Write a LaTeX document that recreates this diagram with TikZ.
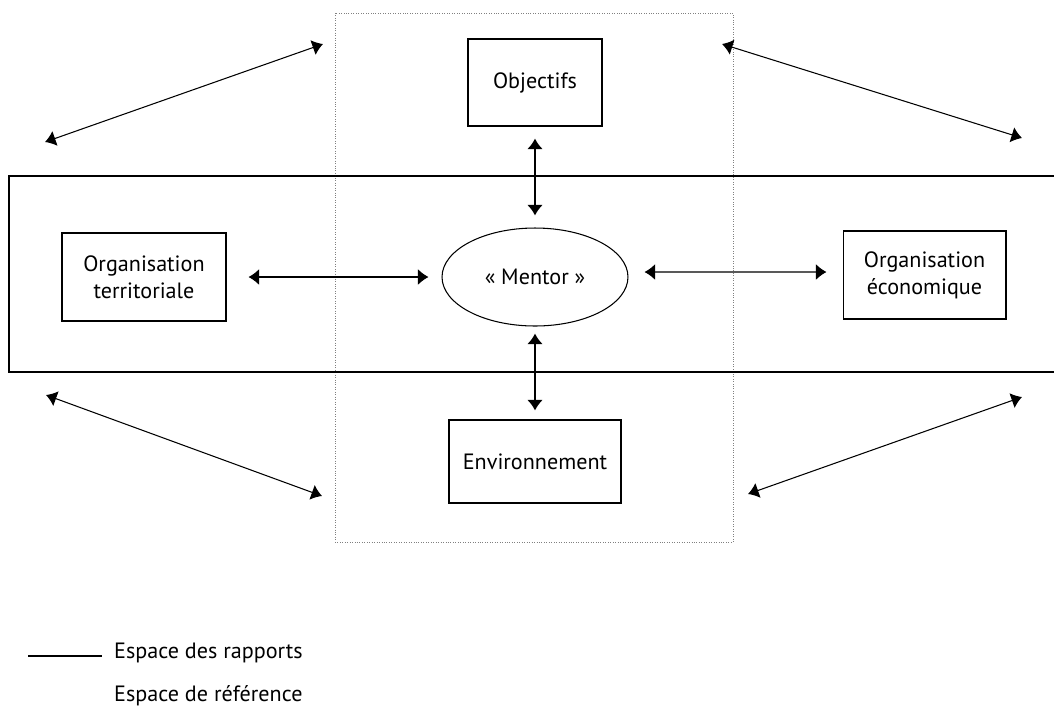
\documentclass[tikz,border=0pt]{standalone}
\usepackage{fontspec}
\setmainfont{PT Sans}
\usetikzlibrary{arrows.meta,shapes.geometric}
\tikzset{
  boite/.style={draw,semithick,align=center,font=\fontsize{12.6}{15.5}\selectfont},
  lien/.style={{Latex[length=6pt,width=9pt]}-{Latex[length=6pt,width=9pt]},semithick},
  lienfort/.style={lien,line width=1.1pt},
}
\begin{document}
\begin{tikzpicture}[x=0.02cm,y=-0.02cm]
\useasboundingbox (0,0) rectangle (1054,708);

% espace de reference
\draw[densely dotted,gray,thin] (335,13) rectangle (733,542);
% espace des rapports
\draw[line width=1.1pt] (9,176) rectangle (1070,372);

\node[boite,minimum width=2.68cm,minimum height=1.74cm] (obj) at (535,82.5) {Objectifs};
\node[boite,minimum width=3.28cm,minimum height=1.76cm] (terr) at (144,277) {Organisation\\territoriale};
\node[boite,minimum width=3.26cm,minimum height=1.76cm] (eco) at (924.5,275) {Organisation\\économique};
\node[boite,minimum width=3.44cm,minimum height=1.66cm] (env) at (535,461.5) {Environnement};
\node[boite,ellipse,minimum width=3.72cm,minimum height=1.96cm] (mentor) at (535,277) {«~Mentor~»};

\draw[lienfort,shorten <=0.24cm,shorten >=0.24cm] (obj) -- (mentor);
\draw[lienfort,shorten <=0.14cm,shorten >=0.18cm] (mentor) -- (env);
\draw[lien,shorten <=0.44cm,shorten >=0.26cm] (terr) -- (mentor);
\draw[lien,shorten <=0.32cm,shorten >=0.32cm] ([yshift=0.1cm]mentor.east) -- ([yshift=0.06cm]eco.west);

\draw[lien] (45,142) coordinate (a1) -- (323,44) coordinate (a2);
\draw[lien] (722,44) coordinate (b1) -- (1022,138) coordinate (b2);
\draw[lien] (46,395) coordinate (c1) -- (322,496) coordinate (c2);
\draw[lien] (1022,397) coordinate (d1) -- (748,494) coordinate (d2);

% legende
\draw[line width=1.1pt] (28,656) coordinate (l1) -- (102,656) coordinate (l2);
\node[right,font=\fontsize{12.6}{15.5}\selectfont] (leg1) at (108,653) {Espace des rapports};
\node[right,font=\fontsize{12.6}{15.5}\selectfont] (leg2) at (108,696) {Espace de référence};
\end{tikzpicture}
\end{document}
